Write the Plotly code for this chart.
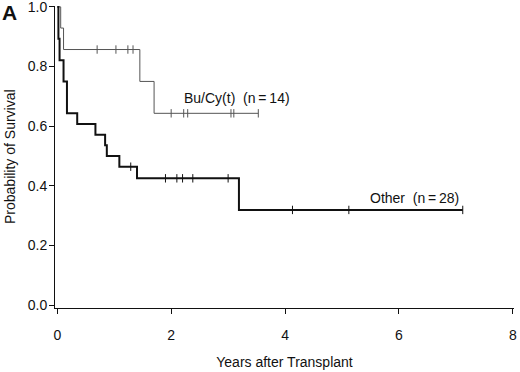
import plotly.graph_objects as go

# Bu/Cy(t) group (n=14): step times and survival after each step
bu_times = [0.0, 0.06, 0.11, 1.45, 1.70, 3.53]
bu_surv = [1.0, 0.929, 0.857, 0.750, 0.643, 0.643]
bu_censor_times = [0.70, 1.03, 1.24, 1.33, 2.00, 2.22, 2.29, 3.05, 3.10, 3.53]

# Other group (n=28)
other_times = [0.0, 0.02, 0.04, 0.11, 0.17, 0.35, 0.67, 0.84, 0.87, 1.09, 1.40, 3.19, 7.12]
other_surv = [1.0, 0.893, 0.821, 0.750, 0.643, 0.607, 0.571, 0.536, 0.500, 0.464, 0.425, 0.319, 0.319]
other_censor_times = [1.29, 1.90, 2.10, 2.20, 2.38, 3.00, 4.13, 5.12, 7.12]

x_ticks = [0, 2, 4, 6, 8]
y_ticks = [0.0, 0.2, 0.4, 0.6, 0.8, 1.0]

label_bu = "Bu/Cy(t)\u00a0\u00a0(n\u2009=\u200914)"
label_other = "Other\u00a0\u00a0(n\u2009=\u200928)"


def surv_at(times, surv, t):
    val = surv[0]
    for ti, si in zip(times, surv):
        if ti <= t:
            val = si
    return val


FONT = "Liberation Sans, Arial, Helvetica, sans-serif"

fig = go.Figure()

fig.add_trace(go.Scatter(
    x=bu_times, y=bu_surv, mode="lines", line_shape="hv",
    line=dict(color="#555555", width=1), showlegend=False, hoverinfo="skip", cliponaxis=False))
fig.add_trace(go.Scatter(
    x=bu_censor_times, y=[surv_at(bu_times, bu_surv, t) for t in bu_censor_times],
    mode="markers", marker=dict(symbol="line-ns", size=6, line=dict(color="#555555", width=1)),
    showlegend=False, hoverinfo="skip"))

fig.add_trace(go.Scatter(
    x=other_times, y=other_surv, mode="lines", line_shape="hv",
    line=dict(color="#111111", width=2), showlegend=False, hoverinfo="skip", cliponaxis=False))
fig.add_trace(go.Scatter(
    x=other_censor_times, y=[surv_at(other_times, other_surv, t) for t in other_censor_times],
    mode="markers", marker=dict(symbol="line-ns", size=6, line=dict(color="#111111", width=1)),
    showlegend=False, hoverinfo="skip"))

fig.update_layout(
    template="none",
    width=520, height=372,
    margin=dict(l=55, r=6, t=6, b=64, autoexpand=False),
    paper_bgcolor="white", plot_bgcolor="white",
    font=dict(family=FONT, size=14, color="#111111"),
    xaxis=dict(
        range=[-0.04, 8.02], tickvals=x_ticks, ticktext=[str(v) for v in x_ticks],
        showline=True, linecolor="#111111", linewidth=1,
        ticks="outside", ticklen=5, tickcolor="#111111", tickwidth=1,
        showgrid=False, zeroline=False, ticklabelstandoff=9, automargin=False,
        ticklabeloverflow="allow",
        title=dict(text="Years after Transplant", standoff=15, font=dict(size=14)),
    ),
    yaxis=dict(
        range=[-0.01, 1.003], tickvals=y_ticks, tickformat=".1f",
        showline=True, linecolor="#111111", linewidth=1,
        ticks="outside", ticklen=5, tickcolor="#111111", tickwidth=1,
        showgrid=False, zeroline=False, ticklabelstandoff=-1, automargin=False,
        ticklabeloverflow="allow",
    ),
    annotations=[
        dict(x=-0.098, y=0.5, xref="paper", yref="paper", text="Probability of Survival",
             textangle=-90, showarrow=False, xanchor="center", yanchor="middle",
             font=dict(size=14)),
        dict(x=2.19, y=0.693, xref="x", yref="y", text=label_bu, showarrow=False,
             xanchor="left", yanchor="middle", font=dict(size=14)),
        dict(x=5.46, y=0.358, xref="x", yref="y", text=label_other, showarrow=False,
             xanchor="left", yanchor="middle", font=dict(size=14)),
        dict(x=-0.1, y=0.98, xref="paper", yref="paper", text="<b>A</b>", showarrow=False,
             xanchor="center", yanchor="middle", font=dict(size=21)),
    ],
)

fig.write_html("out.html", post_script="document.body.style.margin='0';",
               config={"displayModeBar": False})
